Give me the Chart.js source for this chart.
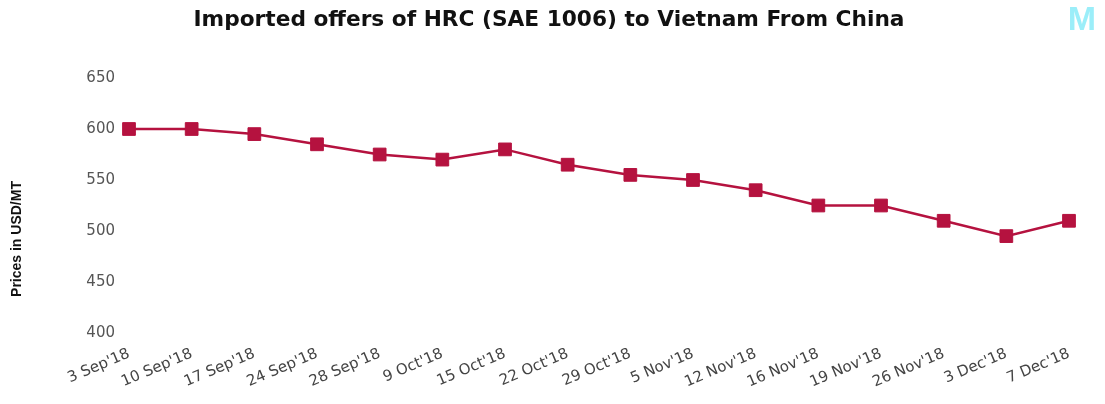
<!DOCTYPE html>
<html>
<head>
<meta charset="utf-8">
<script src="https://cdn.jsdelivr.net/npm/chart.js@4/dist/chart.umd.min.js"></script>
<style>
  html, body { margin: 0; padding: 0; background: #fff; }
  #wrap { width: 1105px; height: 404px; position: relative; }
</style>
</head>
<body>
<div id="wrap"><canvas id="chart"></canvas></div>
<script>
// data
const categories = ["3 Sep'18", "10 Sep'18", "17 Sep'18", "24 Sep'18", "28 Sep'18", "9 Oct'18",
  "15 Oct'18", "22 Oct'18", "29 Oct'18", "5 Nov'18", "12 Nov'18", "16 Nov'18",
  "19 Nov'18", "26 Nov'18", "3 Dec'18", "7 Dec'18"];
const prices = [600, 600, 595, 585, 575, 570, 580, 565, 555, 550, 540, 525, 525, 510, 495, 510];
const yTicks = [400, 450, 500, 550, 600, 650];

const chartTitle = "Imported offers of HRC (SAE 1006) to Vietnam From China";
const lineColor = "#b5123f";

// title centred on the page, y title set lower than centre, faint logo top right
const extras = {
  id: "extras",
  afterDraw(chart) {
    const { ctx, chartArea } = chart;
    ctx.save();
    ctx.font = "bold 21.7px 'DejaVu Sans', sans-serif";
    ctx.fillStyle = "#111";
    ctx.textAlign = "center";
    ctx.textBaseline = "middle";
    ctx.fillText(chartTitle, 549, 20);
    ctx.restore();

    ctx.save();
    ctx.translate(17, chartArea.bottom - 94);
    ctx.rotate(-Math.PI / 2);
    ctx.font = "bold 14px 'Liberation Sans Narrow', 'Liberation Sans', sans-serif";
    ctx.fillStyle = "#111";
    ctx.textAlign = "center";
    ctx.textBaseline = "middle";
    ctx.fillText("Prices in USD/MT", 0, 0);
    ctx.restore();

    ctx.save();
    ctx.font = "bold 34px 'Liberation Sans', sans-serif";
    ctx.fillStyle = "#9beef9";
    ctx.textAlign = "center";
    ctx.textBaseline = "middle";
    ctx.fillText("M", 1082, 21);
    ctx.restore();
  }
};

new Chart(document.getElementById("chart"), {
  type: "line",
  data: {
    labels: categories,
    datasets: [{
      data: prices,
      borderColor: lineColor,
      backgroundColor: lineColor,
      borderWidth: 2.5,
      pointStyle: "rect",
      pointRadius: 9,
      pointHoverRadius: 9,
      pointBorderWidth: 1,
      tension: 0
    }]
  },
  options: {
    responsive: true,
    maintainAspectRatio: false,
    animation: false,
    layout: { padding: { left: 0, right: 36, top: 78, bottom: 0 } },
    plugins: {
      legend: { display: false },
      tooltip: { enabled: false },
      title: { display: false }
    },
    scales: {
      x: {
        offset: false,
        grid: { display: false, drawTicks: false },
        border: { display: false },
        afterFit(scale) { scale.height = 71; },
        ticks: {
          color: "#444",
          font: { family: "'DejaVu Sans', sans-serif", size: 15 },
          minRotation: 23,
          maxRotation: 23,
          autoSkip: false,
          padding: 12
        }
      },
      y: {
        min: 400,
        max: 650,
        grid: { display: false, drawTicks: false },
        border: { display: false },
        afterFit(scale) { scale.width = 129; },
        afterBuildTicks(scale) { scale.ticks = yTicks.map(v => ({ value: v })); },
        ticks: {
          color: "#555",
          font: { family: "'DejaVu Sans', sans-serif", size: 15 },
          stepSize: 50,
          padding: 14
        }
      }
    }
  },
  plugins: [extras]
});
</script>
</body>
</html>
